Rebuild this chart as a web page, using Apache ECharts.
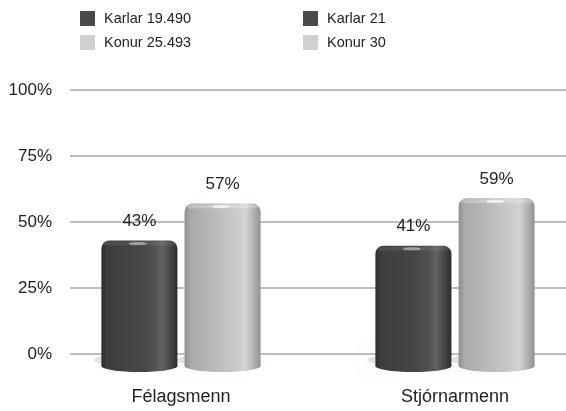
<!DOCTYPE html>
<html><head><meta charset="utf-8">
<script src="https://cdn.jsdelivr.net/npm/echarts@6/dist/echarts.min.js"></script>
<style>html,body{margin:0;padding:0;background:#fff}#c{width:566px;height:411px}</style>
</head><body><div id="c"></div>
<script>
const categories = ['Félagsmenn', 'Stjórnarmenn'];
const seriesNames = ['Karlar 19.490', 'Konur 25.493', 'Karlar 21', 'Konur 30'];
const karlarValues = [43, 41];
const konurValues = [57, 59];
const yTicks = [0, 25, 50, 75, 100];

const seriesData = [
  [[0, karlarValues[0]]],
  [[0, konurValues[0]]],
  [[1, karlarValues[1]]],
  [[1, konurValues[1]]]
];
const isKonur = [false, true, false, true];
const FONT = '"Liberation Sans", Arial, Helvetica, sans-serif';

const darkGrad = () => new echarts.graphic.LinearGradient(0, 0, 1, 0, [
  {offset: 0, color: '#2c2d2d'}, {offset: 0.07, color: '#3c3e3e'},
  {offset: 0.5, color: '#454747'}, {offset: 0.7, color: '#505252'},
  {offset: 0.8, color: '#626464'}, {offset: 0.9, color: '#474949'},
  {offset: 1, color: '#2c2d2d'}
]);
const lightGrad = () => new echarts.graphic.LinearGradient(0, 0, 1, 0, [
  {offset: 0, color: '#8f9191'}, {offset: 0.08, color: '#a8aaaa'},
  {offset: 0.45, color: '#bcbebe'}, {offset: 0.7, color: '#cacccc'},
  {offset: 0.8, color: '#d2d4d4'}, {offset: 0.9, color: '#b4b6b6'},
  {offset: 1, color: '#919393'}
]);

function renderItem(params, api) {
  const cat = api.value(0), val = api.value(1);
  const top = api.coord([cat, val]);
  const base = api.coord([cat, 0]);
  const band = api.size([1, 0])[0];
  const w = band * 0.2775;
  const gap = band * 0.026;
  const light = isKonur[params.seriesIndex];
  const x = light ? top[0] + gap / 2 : top[0] - gap / 2 - w;
  const yTop = top[1];
  const depth = 18;
  const yBot = base[1] + depth;
  const fill = light ? lightGrad() : darkGrad();
  const ry = 6;
  return {
    type: 'group',
    children: [
      { type: 'ellipse', shape: {cx: x + w * 0.3, cy: yBot - 12, rx: w * 0.4, ry: 6},
        style: {fill: 'rgba(0,0,0,0.10)', shadowBlur: 16, shadowColor: 'rgba(0,0,0,0.35)'} },
      { type: 'ellipse', shape: {cx: x + w / 2, cy: yBot - ry, rx: w / 2, ry: ry},
        style: {fill: fill} },
      { type: 'rect', shape: {x: x, y: yTop, width: w, height: yBot - ry - yTop, r: [8, 8, 0, 0]},
        style: {fill: fill} },
      { type: 'rect', shape: {x: x + 2, y: yTop + 1, width: w - 4, height: 4, r: 3},
        style: {fill: light ? 'rgba(255,255,255,0.25)' : 'rgba(255,255,255,0.08)'} },
      { type: 'ellipse', shape: {cx: x + w * 0.48, cy: yTop + 3, rx: w * 0.12, ry: 1.6},
        style: {fill: light ? 'rgba(255,255,255,0.7)' : 'rgba(255,255,255,0.45)'} },
      { type: 'text', x: x + w / 2, y: yTop - 19,
        style: {text: val + '%', align: 'center', verticalAlign: 'middle',
          fontSize: 17, fontFamily: FONT, fill: '#222'} }
    ]
  };
}

const legendCommon = {
  orient: 'vertical', top: 11, itemWidth: 15, itemHeight: 15, itemGap: 9,
  icon: 'rect', padding: 0, selectedMode: false,
  textStyle: {fontSize: 14.5, color: '#222', fontFamily: FONT, padding: [0, 0, 0, 4]}
};

const chart = echarts.init(document.getElementById('c'));
chart.setOption({
  animation: false,
  backgroundColor: '#fff',
  legend: [
    Object.assign({}, legendCommon, {left: 80, data: [seriesNames[0], seriesNames[1]]}),
    Object.assign({}, legendCommon, {left: 303, data: [seriesNames[2], seriesNames[3]]})
  ],
  grid: [
    {left: 70, right: 0, top: 90, bottom: 57, outerBoundsMode: 'none'},
    {left: 44, width: 548, top: 90, bottom: 57, outerBoundsMode: 'none'}
  ],
  xAxis: [
    {gridIndex: 0, type: 'category', data: categories, show: false},
    {gridIndex: 1, type: 'category', data: categories,
      axisLine: {show: false}, axisTick: {show: false},
      axisLabel: {margin: 34, fontSize: 18, color: '#222', fontFamily: FONT}}
  ],
  yAxis: [
    {gridIndex: 0, type: 'value', min: yTicks[0], max: yTicks[yTicks.length - 1],
      interval: yTicks[1] - yTicks[0],
      axisLine: {show: false}, axisTick: {show: false},
      axisLabel: {formatter: '{value}%', margin: 18, fontSize: 17, color: '#222', fontFamily: FONT},
      splitLine: {lineStyle: {color: '#bdbdbd', width: 2}}},
    {gridIndex: 1, type: 'value', min: yTicks[0], max: yTicks[yTicks.length - 1], show: false,
      splitLine: {show: false}}
  ],
  series: seriesNames.map((name, i) => ({
    name: name,
    type: 'custom',
    xAxisIndex: 1, yAxisIndex: 1,
    itemStyle: {color: isKonur[i] ? '#d0d0d0' : '#4a4a4a'},
    renderItem: renderItem,
    encode: {x: 0, y: 1},
    data: seriesData[i]
  }))
});
</script></body></html>
